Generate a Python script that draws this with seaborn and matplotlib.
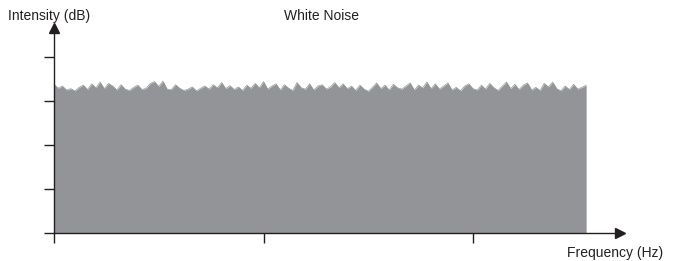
import numpy as np
import pandas as pd
import matplotlib
matplotlib.use("Agg")
import matplotlib.pyplot as plt
import seaborn as sns

sns.set_theme(style="white")
plt.rcParams['font.family'] = ['Liberation Sans', 'DejaVu Sans']

title = "White Noise"
x_label = "Frequency (Hz)"
y_label = "Intensity (dB)"
x_ticks = [0, 1, 2]
y_ticks = [0, 1, 2, 3, 4]

intensity = [
    3.38, 3.29, 3.34, 3.25, 3.28, 3.23, 3.31, 3.36, 3.26, 3.39, 3.30, 3.43, 3.28, 3.40, 3.34, 3.25, 3.37, 3.27, 3.24, 3.31, 3.36, 3.26,
    3.29, 3.40, 3.44, 3.33, 3.45, 3.27, 3.26, 3.37, 3.29, 3.24, 3.27, 3.32, 3.23, 3.29, 3.34, 3.27, 3.37, 3.30, 3.42, 3.28, 3.35,
    3.26, 3.32, 3.24, 3.36, 3.29, 3.40, 3.30, 3.44, 3.27, 3.34, 3.39, 3.25, 3.37, 3.29, 3.24, 3.42, 3.30, 3.27, 3.39, 3.25, 3.34,
    3.37, 3.27, 3.32, 3.42, 3.30, 3.39, 3.28, 3.34, 3.24, 3.36, 3.27, 3.22, 3.31, 3.41, 3.28, 3.36, 3.25, 3.38, 3.30, 3.27, 3.34,
    3.41, 3.25, 3.36, 3.30, 3.43, 3.28, 3.39, 3.27, 3.34, 3.41, 3.25, 3.31, 3.23, 3.34, 3.39, 3.28, 3.25, 3.36, 3.27, 3.40, 3.30,
    3.24, 3.34, 3.43, 3.28, 3.38, 3.26, 3.36, 3.41, 3.25, 3.31, 3.24, 3.40, 3.32, 3.43, 3.28, 3.23, 3.34, 3.26, 3.38, 3.27, 3.31, 3.36,
]
frequency = np.round(np.arange(len(intensity)) * 0.02, 2)

df = pd.DataFrame({"frequency": frequency, "intensity": intensity})

fill_color = "#939497"
ink = "#231f20"

fig = plt.figure(figsize=(6.77, 2.61), dpi=100)
ax = fig.add_axes([54 / 677, 28 / 261, 2.7 * 209.5 / 677, 4.65 * 44 / 261])

sns.lineplot(data=df, x="frequency", y="intensity", ax=ax, color=fill_color, linewidth=0.5)
ax.fill_between(df["frequency"], 0, df["intensity"], color=fill_color, linewidth=0)

ax.set_xlim(0, 2.7)
ax.set_ylim(0, 4.65)
ax.set_xticks(x_ticks)
ax.set_yticks(y_ticks)
ax.set_xticklabels([])
ax.set_yticklabels([])
ax.set_xlabel("")
ax.set_ylabel("")

for s in ["top", "right"]:
    ax.spines[s].set_visible(False)
for s in ["left", "bottom"]:
    ax.spines[s].set_color(ink)
    ax.spines[s].set_linewidth(1.0)
ax.tick_params(axis="both", which="major", direction="out", length=7.5, width=1.0, color=ink,
               bottom=True, left=True)

ax.plot(1, 0, ">", color=ink, markersize=7, transform=ax.get_yaxis_transform(), clip_on=False)
ax.plot(0, 1, "^", color=ink, markersize=7, transform=ax.get_xaxis_transform(), clip_on=False)

fig.text(8 / 677, 1 - 16 / 261, y_label, ha="left", va="center", fontsize=10, color=ink)
fig.text(321 / 677, 1 - 16 / 261, title, ha="center", va="center", fontsize=10, color=ink)
fig.text(567 / 677, 1 - 253 / 261, x_label, ha="left", va="center", fontsize=10, color=ink)

fig.savefig("out.png", dpi=100)
